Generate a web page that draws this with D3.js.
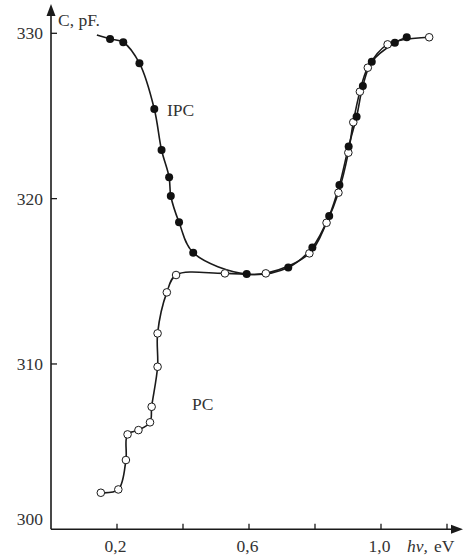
<!DOCTYPE html>
<html>
<head>
<meta charset="utf-8">
<script src="https://cdn.jsdelivr.net/npm/d3@7/dist/d3.min.js"></script>
<style>
  html, body { margin: 0; padding: 0; background: #fff; }
  svg text { font-family: "Liberation Serif", "DejaVu Serif", serif; fill: #333; }
</style>
</head>
<body>
<svg id="chart" width="463" height="557"></svg>
<script>
// Photon energy (eV) and capacitance (pF)
const ipcEnergy = [0.139, 0.179, 0.219, 0.268, 0.313, 0.335, 0.358, 0.363, 0.388, 0.431, 0.593, 0.719, 0.792, 0.843, 0.874, 0.902, 0.926, 0.945, 0.972, 1.042, 1.078];
const ipcCap    = [329.90, 329.66, 329.46, 328.19, 325.42, 322.94, 321.29, 320.16, 318.57, 316.73, 315.44, 315.84, 317.05, 318.95, 320.82, 323.16, 324.95, 326.81, 328.28, 329.43, 329.76];
// the first IPC node is where the drawn curve starts; it carries no marker
const ipcMarked = ipcEnergy.map((d, i) => i > 0);

const pcEnergy = [0.151, 0.204, 0.227, 0.232, 0.265, 0.300, 0.305, 0.323, 0.323, 0.351, 0.379, 0.527, 0.651, 0.783, 0.835, 0.871, 0.901, 0.916, 0.936, 0.960, 1.020, 1.146];
const pcCap    = [302.21, 302.41, 304.19, 305.74, 306.00, 306.47, 307.41, 309.83, 311.85, 314.33, 315.38, 315.48, 315.48, 316.69, 318.54, 320.36, 322.78, 324.62, 326.47, 327.92, 329.33, 329.76];

const xTicks = [0.2, 0.4, 0.6, 0.8, 1.0, 1.2];
const xTickLabels = { 0.2: "0,2", 0.6: "0,6", 1.0: "1,0" };
const yTicks = [300, 310, 320, 330];

const fs = 17.5;
const svg = d3.select("#chart");
const x = d3.scaleLinear().domain([0, 1]).range([51, 381]);
const y = d3.scaleLinear().domain([300, 330]).range([529.3, 33.3]);
const ink = "#1a1a1a";

// axes
svg.append("line").attr("x1", x(0)).attr("x2", 455).attr("y1", y(300)).attr("y2", y(300))
  .attr("stroke", ink).attr("stroke-width", 1.6);
svg.append("path").attr("d", `M463,${y(300)} L451,${y(300) - 4.5} L451,${y(300) + 4.5} Z`).attr("fill", ink);
svg.append("line").attr("x1", x(0)).attr("x2", x(0)).attr("y1", y(300)).attr("y2", 14)
  .attr("stroke", ink).attr("stroke-width", 1.6);
svg.append("path").attr("d", `M${x(0)},4 L${x(0) - 4.5},16 L${x(0) + 4.5},16 Z`).attr("fill", ink);

const xAxis = d3.axisBottom(x).tickValues(xTicks).tickSize(0).tickFormat(d => xTickLabels[d] || "");
svg.selectAll(".xt").data(xTicks).join("line")
  .attr("x1", d => x(d)).attr("x2", d => x(d))
  .attr("y1", y(300)).attr("y2", y(300) - 5.5)
  .attr("stroke", ink).attr("stroke-width", 1.3);
const gx = svg.append("g").attr("transform", `translate(-2,${y(300)})`).call(xAxis);
gx.select(".domain").remove();
gx.selectAll("text").attr("y", 23).attr("dy", null).attr("font-size", fs)
  .style("font-family", '"Liberation Serif", serif').attr("fill", "#333");

svg.selectAll(".yt").data(yTicks.filter(d => d > 300)).join("line")
  .attr("x1", x(0)).attr("x2", x(0) + 6)
  .attr("y1", d => y(d)).attr("y2", d => y(d))
  .attr("stroke", ink).attr("stroke-width", 1.3);
svg.selectAll(".ylab").data(yTicks).join("text")
  .attr("x", 43).attr("y", d => d === 300 ? y(d) - 10 : y(d))
  .attr("dy", "0.35em").attr("text-anchor", "end").attr("font-size", fs)
  .text(d => d);

// axis titles
svg.append("text").attr("x", 58).attr("y", 26).attr("font-size", fs).text("C, pF.");
const xt = svg.append("text").attr("x", 407).attr("y", 552).attr("font-size", fs);
xt.append("tspan").attr("font-style", "italic").text("hν,");
xt.append("tspan").attr("dx", 6).text("eV");

// curves
const line = d3.line().curve(d3.curveCatmullRom.alpha(0.5))
  .x(d => x(d[0])).y(d => y(d[1]));
const pcData = pcEnergy.map((e, i) => [e, pcCap[i]]);
const ipcData = ipcEnergy.map((e, i) => [e, ipcCap[i]]);

svg.append("path").attr("d", line(pcData)).attr("fill", "none").attr("stroke", ink).attr("stroke-width", 1.6);
svg.append("path").attr("d", line(ipcData)).attr("fill", "none").attr("stroke", ink).attr("stroke-width", 1.6);

svg.selectAll(".pc").data(pcData).join("circle")
  .attr("cx", d => x(d[0])).attr("cy", d => y(d[1])).attr("r", 3.8)
  .attr("fill", "#fff").attr("stroke", ink).attr("stroke-width", 1);
svg.selectAll(".ipc").data(ipcData.filter((d, i) => ipcMarked[i])).join("circle")
  .attr("cx", d => x(d[0])).attr("cy", d => y(d[1])).attr("r", 4)
  .attr("fill", "#111");

// series labels
svg.append("text").attr("x", 167).attr("y", 110).attr("dy", "0.35em").attr("font-size", fs).text("IPC");
svg.append("text").attr("x", 192).attr("y", 404).attr("dy", "0.35em").attr("font-size", fs).text("PC");
</script>
</body>
</html>
